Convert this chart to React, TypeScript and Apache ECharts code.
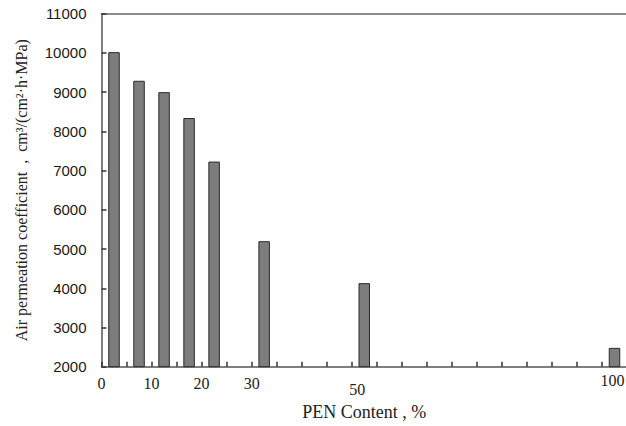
import React, { useEffect, useRef } from "react";
import * as echarts from "echarts";

const penContent = ["0", "5", "10", "15", "20", "25", "30", "35", "40", "45", "50", "55", "60", "65", "70", "75", "80", "85", "90", "95", "100"];
const measuredContent = ["0", "5", "10", "15", "20", "30", "50", "100"];
const permeability = [10020, 9290, 9000, 8340, 7230, 5200, 4130, 2480];
const shownLabels = ["0", "10", "20", "30", "50", "100"];

const yTitle = "Air permeation coefficient  ,  cm³/(cm²·h·MPa)";
const xTitle = "PEN Content , %";

export default function App() {
  const ref = useRef<HTMLDivElement>(null);
  useEffect(() => {
    if (!ref.current) return;
    const chart = echarts.init(ref.current, null, { renderer: "svg" });
    const seriesData = penContent.map((c) => {
      const i = measuredContent.indexOf(c);
      return i >= 0 ? permeability[i] : null;
    });
    chart.setOption({
      animation: false,
      backgroundColor: "#ffffff",
      grid: {
        left: 101.5,
        top: 13.7,
        right: -1,
        bottom: 59.3,
        show: false,
        containLabel: false,
        outerBoundsMode: "none",
      },
      xAxis: [
        {
          type: "category",
          data: penContent,
          boundaryGap: true,
          name: xTitle,
          nameLocation: "middle",
          nameGap: 33,
          nameTextStyle: { fontFamily: "Liberation Serif", fontSize: 18, color: "#222" },
          axisLine: { show: true, lineStyle: { color: "#555", width: 1.5 } },
          axisTick: { show: true, inside: true, length: 5, interval: 0, lineStyle: { color: "#333", width: 1.5 } },
          axisLabel: {
            interval: 0,
            margin: 6,
            hideOverlap: false,
            fontFamily: "Liberation Serif",
            fontSize: 16,
            color: "#222",
            formatter: (v: string) => {
              if (!shownLabels.includes(v)) return "";
              if (v === "100") return "{c|" + v + "}";
              if (v === "50") return "{b|" + v + "}";
              return "{a|" + v + "}";
            },
            rich: {
              a: { fontFamily: "Liberation Serif", fontSize: 16, color: "#222", padding: [3, 25, 0, 0] },
              b: { fontFamily: "Liberation Serif", fontSize: 16, color: "#222", padding: [9, 14, 0, 0] },
              c: { fontFamily: "Liberation Serif", fontSize: 16, color: "#222", padding: [0, 4, 0, 0] },
            },
          },
          splitLine: { show: false },
        },
        {
          type: "category",
          data: penContent,
          position: "top",
          axisLine: { show: true, lineStyle: { color: "#666", width: 1.5 } },
          axisTick: { show: false },
          axisLabel: { show: false },
          splitLine: { show: false },
        },
      ],
      yAxis: {
        type: "value",
        min: 2000,
        max: 11000,
        interval: 1000,
        name: yTitle,
        nameLocation: "middle",
        nameGap: 72,
        nameRotate: 90,
        nameTextStyle: { fontFamily: "Liberation Serif", fontSize: 16, color: "#222" },
        axisLine: { show: true, lineStyle: { color: "#555", width: 1.5 } },
        axisTick: { show: true, inside: true, length: 5, lineStyle: { color: "#333", width: 1.5 } },
        axisLabel: {
          margin: 15,
          fontFamily: "Liberation Sans",
          fontSize: 15,
          color: "#1a1a1a",
          padding: [9, 0, 0, 0],
          formatter: (v: number) => String(v),
        },
        splitLine: { show: false },
      },
      series: [
        {
          type: "bar",
          xAxisIndex: 0,
          data: seriesData,
          barWidth: 11.5,
          itemStyle: { color: "#7d7d7d", borderColor: "#2a2a2a", borderWidth: 1 },
        },
      ],
    });
    return () => chart.dispose();
  }, []);
  return <div ref={ref} style={{ position: "fixed", left: 0, top: 0, width: 626, height: 426 }} />;
}
